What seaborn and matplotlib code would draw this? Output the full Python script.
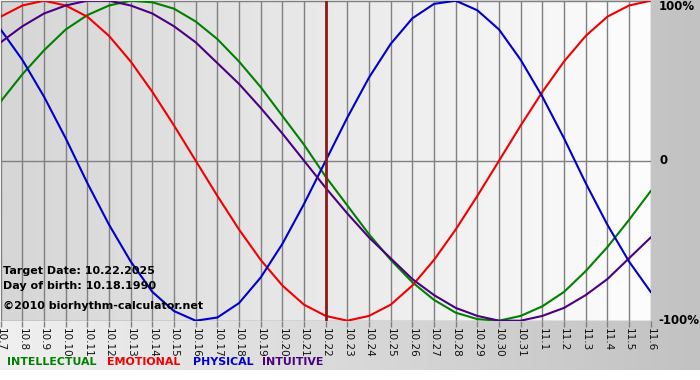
import numpy as np
import pandas as pd
import matplotlib
matplotlib.use('Agg')
import matplotlib.pyplot as plt
from matplotlib.colors import LinearSegmentedColormap
import seaborn as sns

# Dates shown on the x axis (10.7 .. 11.6)
dates = ['10.7', '10.8', '10.9', '10.10', '10.11', '10.12', '10.13', '10.14', '10.15', '10.16',
         '10.17', '10.18', '10.19', '10.20', '10.21', '10.22', '10.23', '10.24', '10.25', '10.26',
         '10.27', '10.28', '10.29', '10.30', '10.31', '11.1', '11.2', '11.3', '11.4', '11.5', '11.6']

# Values in percent
intellectual = [37, 54, 69, 82, 91, 97, 100, 99, 95, 87, 76, 62, 46, 28, 10, -10,
                -28, -46, -62, -76, -87, -95, -99, -100, -97, -91, -82, -69, -54, -37, -19]
emotional = [90, 97, 100, 97, 90, 78, 62, 43, 22, 0, -22, -43, -62, -78, -90, -97,
             -100, -97, -90, -78, -62, -43, -22, 0, 22, 43, 62, 78, 90, 97, 100]
physical = [82, 63, 40, 14, -14, -40, -63, -82, -94, -100, -98, -89, -73, -52, -27, 0,
            27, 52, 73, 89, 98, 100, 94, 82, 63, 40, 14, -14, -40, -63, -82]
intuitive = [74, 84, 92, 97, 100, 100, 97, 92, 84, 74, 61, 48, 33, 17, 0, -17,
             -33, -48, -61, -74, -84, -92, -97, -100, -100, -97, -92, -84, -74, -61, -48]

target_idx = dates.index('10.22')

colors = {'INTELLECTUAL': '#008000', 'EMOTIONAL': '#f00000',
          'PHYSICAL': '#0000cc', 'INTUITIVE': '#4b0082'}

series = {'INTELLECTUAL': intellectual, 'EMOTIONAL': emotional,
          'PHYSICAL': physical, 'INTUITIVE': intuitive}
df = pd.concat([pd.DataFrame({'day': range(len(dates)), 'value': v, 'series': k})
                for k, v in series.items()], ignore_index=True)

W, H = 700, 380
fig = plt.figure(figsize=(7, 3.8), dpi=100, facecolor='white')

def fx(px):
    return px / W

def fy(py):
    return 1 - py / H

# outer background: light on the left, gray on the right
bg = fig.add_axes([0, 10 / H, 1, 1 - 10 / H], zorder=-5)
bg.imshow(np.linspace(0, 1, 256).reshape(1, -1), aspect='auto', extent=(0, 1, 0, 1),
          cmap=LinearSegmentedColormap.from_list('o', ['#f0f0f0', '#c2c2c2']))
bg.axis('off')

ax = fig.add_axes([fx(0.7), fy(320.7), 650 / W, 320 / H])
ax.set_facecolor('none')
ax.imshow(np.linspace(0, 1, 256).reshape(1, -1), aspect='auto', extent=(0, 30, -100, 100),
          cmap=LinearSegmentedColormap.from_list('p', ['#d6d6d6', '#fdfdfd']), zorder=0)

sns.lineplot(data=df, x='day', y='value', hue='series', palette=colors, linewidth=1.5,
             legend=False, ax=ax, zorder=3)

ax.set_xlim(0, 30)
ax.set_ylim(-100, 100)
ax.set_xticks(range(len(dates)))
ax.set_xticklabels(dates, rotation=270, fontsize=7.5, color='#111111')
ax.set_yticks([])
ax.tick_params(axis='x', length=4, width=1, color='#808080', pad=1)
ax.grid(axis='x', color='#808080', linewidth=1, zorder=1)
ax.set_axisbelow(True)
for v in (-100, 0, 100):
    ax.axhline(v, color='#808080', linewidth=1, zorder=1)
for s in ax.spines.values():
    s.set_visible(False)
ax.axvline(target_idx, color='#8b1a1a', linewidth=2, zorder=4)
ax.set_xlabel('')
ax.set_ylabel('')

# right side labels
fig.text(fx(659), fy(7), '100%', fontsize=8.5, fontweight='bold', va='center', ha='left')
fig.text(fx(659), fy(161), '0', fontsize=8.5, fontweight='bold', va='center', ha='left')
fig.text(fx(658), fy(321), '-100%', fontsize=8.5, fontweight='bold', va='center', ha='left')

# info text
fig.text(fx(3), fy(271), 'Target Date: 10.22.2025', fontsize=8, fontweight='bold', va='center')
fig.text(fx(3), fy(286), 'Day of birth: 10.18.1990', fontsize=8, fontweight='bold', va='center')
fig.text(fx(3), fy(306), '\u00a92010 biorhythm-calculator.net', fontsize=8, fontweight='bold', va='center')

# legend row
for name, px in zip(series.keys(), [7, 107, 193, 262]):
    fig.text(fx(px), fy(362), name, fontsize=7.9, fontweight='bold', color=colors[name], va='center')

fig.savefig('out.png', dpi=100, facecolor=fig.get_facecolor())
